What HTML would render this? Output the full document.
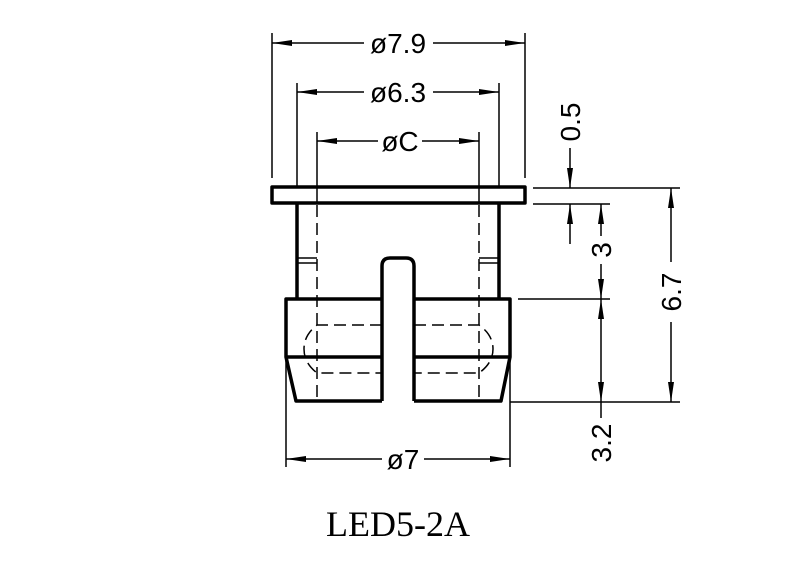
<!DOCTYPE html>
<html><head><style>html,body{margin:0;padding:0;background:#fff;}svg{display:block}</style></head>
<body>
<svg width="800" height="576" viewBox="0 0 800 576" xmlns="http://www.w3.org/2000/svg" font-family="'Liberation Sans', sans-serif">
<defs>
<marker id="a" viewBox="0 0 20 6" refX="20" refY="3" markerWidth="20" markerHeight="6" markerUnits="userSpaceOnUse" orient="auto-start-reverse"><path d="M0,0 L20,3 L0,6 Z" fill="#000"/></marker>
</defs>
<g stroke="#000" stroke-width="1.5" fill="none">
<line x1="272" y1="33" x2="272" y2="178"/>
<line x1="525" y1="33" x2="525" y2="178"/>
<line x1="297" y1="83" x2="297" y2="187"/>
<line x1="499" y1="83" x2="499" y2="187"/>
<line x1="317" y1="132" x2="317" y2="203"/>
<line x1="479" y1="132" x2="479" y2="203"/>
<line x1="272" y1="43" x2="364" y2="43" marker-start="url(#a)"/>
<line x1="433" y1="43" x2="525" y2="43" marker-end="url(#a)"/>
<line x1="297" y1="92" x2="364" y2="92" marker-start="url(#a)"/>
<line x1="433" y1="92" x2="499" y2="92" marker-end="url(#a)"/>
<line x1="317" y1="141" x2="378" y2="141" marker-start="url(#a)"/>
<line x1="422" y1="141" x2="479" y2="141" marker-end="url(#a)"/>
<line x1="286" y1="357" x2="286" y2="467"/>
<line x1="510" y1="357" x2="510" y2="467"/>
<line x1="286" y1="459" x2="382" y2="459" marker-start="url(#a)"/>
<line x1="424" y1="459" x2="510" y2="459" marker-end="url(#a)"/>
<line x1="533" y1="188" x2="680" y2="188"/>
<line x1="533" y1="204" x2="610" y2="204"/>
<line x1="518" y1="299" x2="610" y2="299"/>
<line x1="510" y1="402" x2="680" y2="402"/>
<line x1="570" y1="148" x2="570" y2="188" marker-end="url(#a)"/>
<line x1="570" y1="244" x2="570" y2="204" marker-end="url(#a)"/>
<line x1="601" y1="204" x2="601" y2="236" marker-start="url(#a)"/>
<line x1="601" y1="264" x2="601" y2="299" marker-end="url(#a)"/>
<line x1="601" y1="299" x2="601" y2="402" marker-start="url(#a)" marker-end="url(#a)"/>
<line x1="601" y1="402" x2="601" y2="418"/>
<line x1="671" y1="188" x2="671" y2="262" marker-start="url(#a)"/>
<line x1="671" y1="322" x2="671" y2="402" marker-end="url(#a)"/>
</g>
<g stroke="#000" stroke-width="3.5" fill="none" stroke-linejoin="round">
<rect x="272" y="187" width="253" height="16"/>
<line x1="297" y1="203" x2="297" y2="299"/>
<line x1="499" y1="203" x2="499" y2="299"/>
<path d="M382,401 L382,266 Q382,258 390,258 L406,258 Q414,258 414,266 L414,401"/>
<path d="M382,299 L286,299 L286,357 L296,401 L382,401"/>
<path d="M414,299 L510,299 L510,357 L501,401 L414,401"/>
<line x1="286" y1="357" x2="382" y2="357"/>
<line x1="414" y1="357" x2="510" y2="357"/>
</g>
<g stroke="#000" stroke-width="1.5" fill="none">
<line x1="297" y1="258" x2="317" y2="258"/><line x1="297" y1="263" x2="317" y2="263"/>
<line x1="479" y1="258" x2="499" y2="258"/><line x1="479" y1="263" x2="499" y2="263"/>
</g>
<g stroke="#000" stroke-width="1.5" fill="none" stroke-dasharray="12,6">
<line x1="317" y1="205" x2="317" y2="401"/>
<line x1="479" y1="205" x2="479" y2="401"/>
<path d="M382,325 L317,325 Q304,335 304,349 Q304,363 317,373 L382,373"/>
<path d="M414,325 L479,325 Q493,335 493,349 Q493,363 479,373 L414,373"/>
</g>
<g font-size="28" fill="#000" text-anchor="middle">
<text x="398" y="53">ø7.9</text>
<text x="398" y="102">ø6.3</text>
<text x="400" y="151">øC</text>
<text x="403" y="469">ø7</text>
<text transform="translate(580,122) rotate(-90)">0.5</text>
<text transform="translate(611,250) rotate(-90)">3</text>
<text transform="translate(611,443) rotate(-90)">3.2</text>
<text transform="translate(681,292) rotate(-90)">6.7</text>
</g>
<text x="398" y="536" font-family="'Liberation Serif', serif" font-size="36" text-anchor="middle" fill="#000">LED5-2A</text>
</svg>
</body></html>
